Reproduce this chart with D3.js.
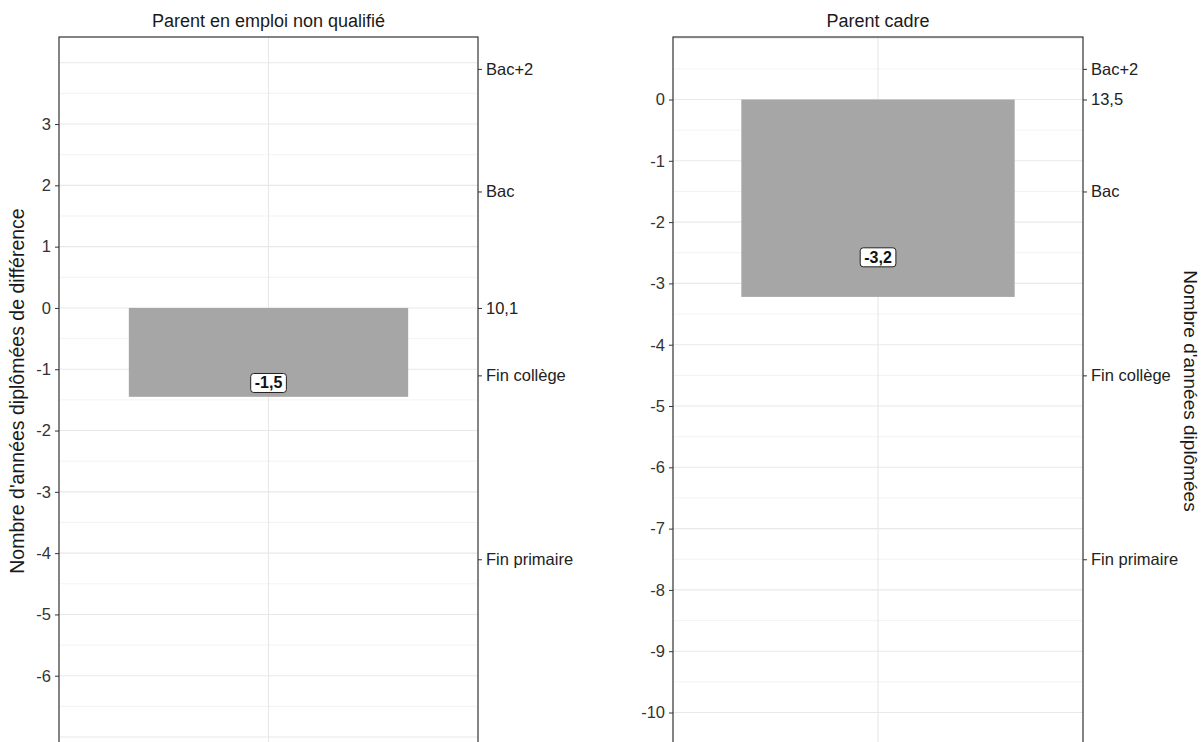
<!DOCTYPE html>
<html><head><meta charset="utf-8">
<script src="https://cdn.jsdelivr.net/npm/d3@7"></script>
<style>body{margin:0;background:#fff}svg{display:block}text{font-family:"Liberation Sans",Arial,sans-serif}</style>
</head><body>
<script>
const panels = ["Parent en emploi non qualifié", "Parent cadre"];
const diffs = [-1.45, -3.22];
const diffLabels = ["-1,5", "-3,2"];
const labelPos = [-1.22, -2.57];
const refYears = [10.1, 13.5];
const refLabels = ["10,1", "13,5"];
const leftTicks = [[3, 2, 1, 0, -1, -2, -3, -4, -5, -6], [0, -1, -2, -3, -4, -5, -6, -7, -8, -9, -10]];
const diplomaLabels = ["Bac+2", "Bac", "Fin collège", "Fin primaire"];
const diplomaYears = [14, 12, 9, 6];
const yearsDomain = [2.97, 14.52];

(function () {
const W = 1203, H = 742;
const svg = d3.select("body").append("svg").attr("width", W).attr("height", H);
const pTop = 37, pBottom = 745;
const panelX = [[59, 478], [673, 1083]];

const yYears = d3.scaleLinear().domain(yearsDomain).range([pBottom, pTop]);

panels.forEach((name, i) => {
  const [x0, x1] = panelX[i];
  const ref = refYears[i];
  const y = d3.scaleLinear().domain([yearsDomain[0] - ref, yearsDomain[1] - ref]).range([pBottom, pTop]);
  const x = d3.scaleBand().domain([name]).range([x0, x1]).paddingInner(0).paddingOuter(0.25);
  const g = svg.append("g");
  const lo = Math.ceil(y.domain()[0]), hi = Math.floor(y.domain()[1]);
  const major = d3.range(lo, hi + 1).filter(v => y(v) > pTop + 1);
  const minor = d3.range(Math.floor(y.domain()[0]) + 0.5, y.domain()[1], 1).filter(v => v > y.domain()[0]);
  g.selectAll(".mn").data(minor).join("line")
    .attr("x1", x0).attr("x2", x1).attr("y1", d => y(d)).attr("y2", d => y(d))
    .attr("stroke", "#f0f0f0").attr("stroke-width", 0.8);
  g.selectAll(".mj").data(major).join("line")
    .attr("x1", x0).attr("x2", x1).attr("y1", d => y(d)).attr("y2", d => y(d))
    .attr("stroke", "#e8e8e8").attr("stroke-width", 1.1);
  const cx = x(name) + x.bandwidth() / 2;
  g.append("line").attr("x1", cx).attr("x2", cx).attr("y1", pTop).attr("y2", pBottom)
    .attr("stroke", "#e8e8e8").attr("stroke-width", 1.1);
  g.append("rect").attr("x", x(name)).attr("width", x.bandwidth())
    .attr("y", y(0)).attr("height", y(diffs[i]) - y(0)).attr("fill", "#a6a6a6");
  g.append("rect").attr("x", x0).attr("y", pTop).attr("width", x1 - x0).attr("height", pBottom - pTop)
    .attr("fill", "none").attr("stroke", "#333").attr("stroke-width", 1.2);
  const la = g.append("g").attr("transform", `translate(${x0},0)`)
    .call(d3.axisLeft(y).tickValues(leftTicks[i]).tickSize(4).tickPadding(4));
  la.select(".domain").remove();
  la.selectAll("line").attr("stroke", "#333");
  la.selectAll("text").attr("font-size", 16.5).attr("fill", "#333")
    .text(d => (d < 0 ? "-" : "") + Math.abs(d));
  const rTicks = diplomaYears.concat([ref]);
  const rLabs = diplomaLabels.concat([refLabels[i]]);
  const ra = g.append("g").attr("transform", `translate(${x1},0)`)
    .call(d3.axisRight(yYears).tickValues(rTicks).tickSize(4).tickPadding(4).tickFormat((d, j) => rLabs[j]));
  ra.select(".domain").remove();
  ra.selectAll("line").attr("stroke", "#333");
  ra.selectAll("text").attr("font-size", 16.5).attr("fill", "#222");
  svg.append("text").attr("x", (x0 + x1) / 2).attr("y", 27).attr("text-anchor", "middle")
    .attr("font-size", 18).attr("fill", "#1a1a1a").text(name);
  const lg = g.append("g").attr("transform", `translate(${cx},${y(labelPos[i])})`);
  const t = lg.append("text").attr("text-anchor", "middle").attr("dy", "0.36em")
    .attr("font-size", 16).attr("font-weight", "bold").attr("fill", "#111").text(diffLabels[i]);
  const bb = t.node().getBBox();
  lg.insert("rect", "text").attr("x", bb.x - 4).attr("y", bb.y - 1).attr("width", bb.width + 8).attr("height", bb.height + 2)
    .attr("rx", 3).attr("fill", "#fff").attr("stroke", "#222").attr("stroke-width", 1);
});

svg.append("text").attr("transform", `translate(24,${(pTop + pBottom) / 2}) rotate(-90)`)
  .attr("text-anchor", "middle").attr("font-size", 19.5).attr("fill", "#1a1a1a")
  .text("Nombre d'années diplômées de différence");
svg.append("text").attr("transform", `translate(1184,${(pTop + pBottom) / 2}) rotate(90)`)
  .attr("text-anchor", "middle").attr("font-size", 19).attr("fill", "#1a1a1a")
  .text("Nombre d'années diplômées");
})();
</script>
</body></html>
